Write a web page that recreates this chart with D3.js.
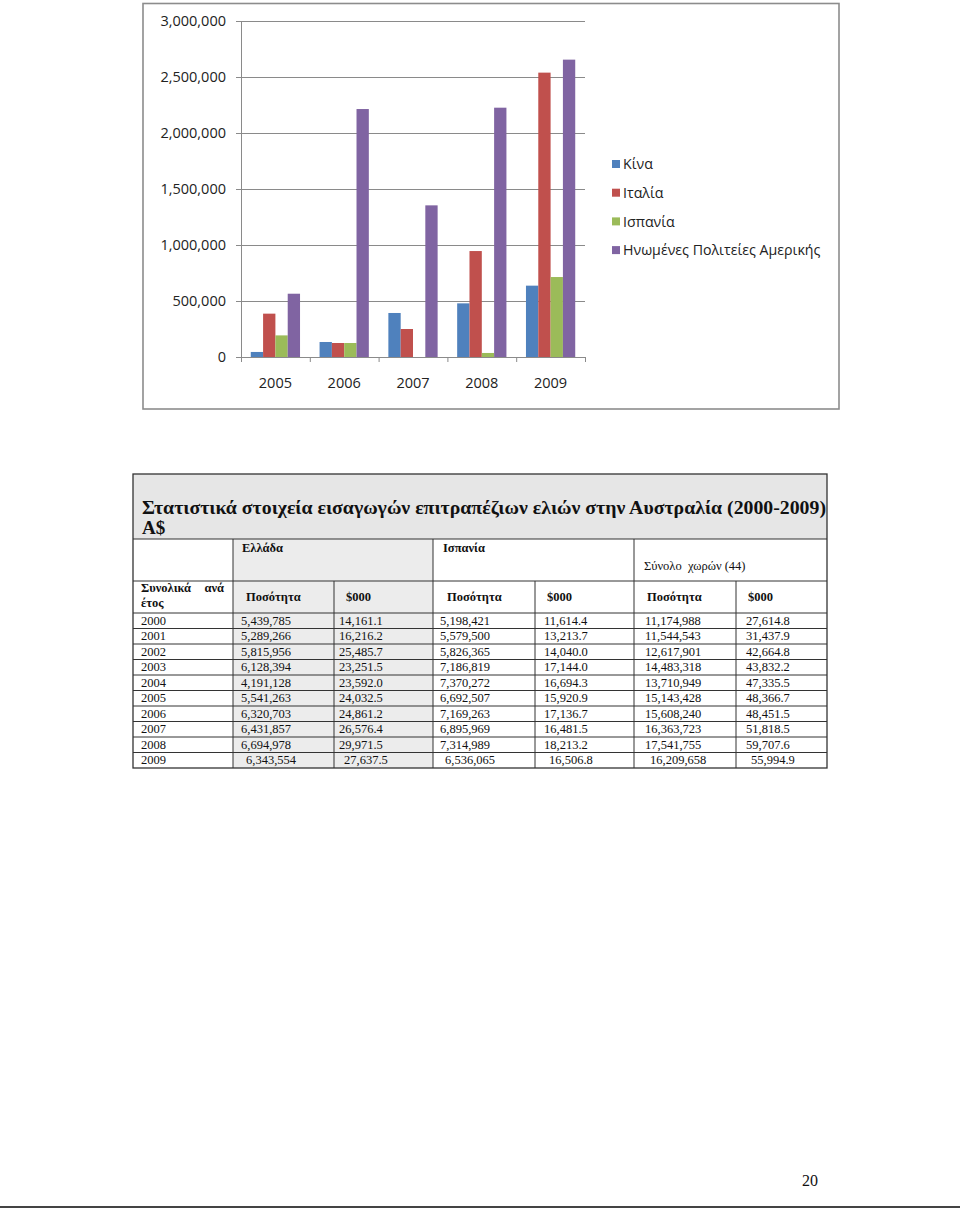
<!DOCTYPE html>
<html>
<head>
<meta charset="utf-8">
<script src="https://cdn.jsdelivr.net/npm/d3@7"></script>
<style>
  html, body { margin: 0; padding: 0; background: #fff; }
  svg { display: block; }
</style>
</head>
<body>
<script>
// ---------- Chart data ----------
const chartYears = ["2005", "2006", "2007", "2008", "2009"];
const seriesNames = ["Κίνα", "Ιταλία", "Ισπανία", "Ηνωμένες Πολιτείες Αμερικής"];
const china = [45000, 134000, 393000, 479000, 637000];
const italy = [387000, 125000, 250000, 946000, 2539000];
const spain = [193000, 125000, 0, 36000, 714000];
const usa   = [565000, 2214000, 1354000, 2226000, 2655000];
const yTicks = [0, 500000, 1000000, 1500000, 2000000, 2500000, 3000000];
const seriesColors = ["#4F81BD", "#C0504D", "#9BBB59", "#8064A2"];

// ---------- Table data ----------
const tableTitle1 = "Στατιστικά στοιχεία εισαγωγών επιτραπέζιων ελιών στην Αυστραλία (2000-2009)";
const tableTitle2 = "A$";
const groupHeaders = ["Ελλάδα", "Ισπανία", "Σύνολο  χωρών (44)"];
const subHeaders = ["Ποσότητα", "$000", "Ποσότητα", "$000", "Ποσότητα", "$000"];
const tableYears = ["2000","2001","2002","2003","2004","2005","2006","2007","2008","2009"];
const greeceQty = ["5,439,785","5,289,266","5,815,956","6,128,394","4,191,128","5,541,263","6,320,703","6,431,857","6,694,978","6,343,554"];
const greeceVal = ["14,161.1","16,216.2","25,485.7","23,251.5","23,592.0","24,032.5","24,861.2","26,576.4","29,971.5","27,637.5"];
const spainQty  = ["5,198,421","5,579,500","5,826,365","7,186,819","7,370,272","6,692,507","7,169,263","6,895,969","7,314,989","6,536,065"];
const spainVal  = ["11,614.4","13,213.7","14,040.0","17,144.0","16,694.3","15,920.9","17,136.7","16,481.5","18,213.2","16,506.8"];
const totalQty  = ["11,174,988","11,544,543","12,617,901","14,483,318","13,710,949","15,143,428","15,608,240","16,363,723","17,541,755","16,209,658"];
const totalVal  = ["27,614.8","31,437.9","42,664.8","43,832.2","47,335.5","48,366.7","48,451.5","51,818.5","59,707.6","55,994.9"];
const pageNumber = "20";

const W = 960, H = 1210;
const svg = d3.select("body").append("svg").attr("width", W).attr("height", H);
svg.append("rect").attr("width", W).attr("height", H).attr("fill", "#fff");

// ================= CHART =================
const sans = "'Open Sans', 'DejaVu Sans', sans-serif";
svg.append("rect").attr("x", 143).attr("y", 3.5).attr("width", 696).attr("height", 405.5)
  .attr("fill", "#fff").attr("stroke", "#8c8c8c").attr("stroke-width", 1.6);

const plot = { left: 241, right: 585, top: 21, bottom: 357 };
const x = d3.scaleBand().domain(chartYears).range([plot.left, plot.right]).paddingInner(0).paddingOuter(0);
const groupW = x.bandwidth() * 0.716;
const x1 = d3.scaleBand().domain(d3.range(4)).range([0, groupW]);
const y = d3.scaleLinear().domain([0, 3000000]).range([plot.bottom, plot.top]);

const g = svg.append("g");
// gridlines
g.selectAll("line.grid").data(yTicks).join("line")
  .attr("x1", plot.left - 5).attr("x2", plot.right)
  .attr("y1", d => y(d) + 0.5).attr("y2", d => y(d) + 0.5)
  .attr("stroke", "#8a8a8a").attr("stroke-width", 1);
// y axis line
g.append("line").attr("x1", plot.left + 0.5).attr("x2", plot.left + 0.5)
  .attr("y1", plot.top).attr("y2", plot.bottom + 5)
  .attr("stroke", "#8a8a8a");
// x ticks at band boundaries
const bounds = chartYears.map(d => x(d)).concat([plot.right]);
g.selectAll("line.xt").data(bounds.slice(1)).join("line")
  .attr("x1", d => d + 0.5).attr("x2", d => d + 0.5)
  .attr("y1", plot.bottom).attr("y2", plot.bottom + 5)
  .attr("stroke", "#8a8a8a");
// y labels
g.selectAll("text.yl").data(yTicks).join("text")
  .attr("x", 226).attr("y", d => y(d)).attr("dy", "0.36em")
  .attr("text-anchor", "end").attr("font-family", sans).attr("font-size", 14.5)
  .attr("fill", "#222").text(d => d3.format(",")(d));
// x labels
g.selectAll("text.xl").data(chartYears).join("text")
  .attr("x", d => x(d) + x.bandwidth() / 2).attr("y", 388)
  .attr("text-anchor", "middle").attr("font-family", sans).attr("font-size", 14.5)
  .attr("fill", "#222").text(d => d);

// bars
const allSeries = [china, italy, spain, usa];
const barData = [];
chartYears.forEach((yr, i) => {
  allSeries.forEach((s, k) => barData.push({ yr, k, v: s[i] }));
});
g.selectAll("rect.bar").data(barData.filter(d => d.v > 0)).join("rect")
  .attr("x", d => x(d.yr) + (x.bandwidth() - groupW) / 2 + x1(d.k))
  .attr("width", x1.bandwidth())
  .attr("y", d => y(d.v))
  .attr("height", d => y(0) - y(d.v))
  .attr("fill", d => seriesColors[d.k]);

// legend
const lg = svg.append("g");
seriesNames.forEach((n, i) => {
  const cy = 164 + i * 28.7;
  lg.append("rect").attr("x", 612).attr("y", cy - 4).attr("width", 8).attr("height", 8)
    .attr("fill", seriesColors[i]);
  lg.append("text").attr("x", 623).attr("y", cy).attr("dy", "0.36em")
    .attr("font-family", sans).attr("font-size", 14.2).attr("fill", "#222").text(n);
});

// ================= TABLE =================
const serif = "'Liberation Serif', 'DejaVu Serif', serif";
const cols = [133, 233, 334, 433, 535, 634, 736, 827];
const rTitleTop = 474, rTitleBot = 539, rH1Bot = 581, rH2Bot = 613, rowH = 15.5;
const tableBottom = rH2Bot + rowH * tableYears.length;
const gray = "#e6e6e6", lightGray = "#ececec";
const t = svg.append("g");

// backgrounds
t.append("rect").attr("x", cols[0]).attr("y", rTitleTop).attr("width", cols[7] - cols[0])
  .attr("height", rTitleBot - rTitleTop).attr("fill", gray);
t.append("rect").attr("x", cols[1]).attr("y", rTitleBot).attr("width", cols[3] - cols[1])
  .attr("height", tableBottom - rTitleBot).attr("fill", lightGray);

const stroke = "#333";
function hline(x1_, x2_, yy) {
  t.append("line").attr("x1", x1_).attr("x2", x2_).attr("y1", yy).attr("y2", yy)
    .attr("stroke", stroke).attr("stroke-width", 1);
}
function vline(xx, y1_, y2_) {
  t.append("line").attr("x1", xx).attr("x2", xx).attr("y1", y1_).attr("y2", y2_)
    .attr("stroke", stroke).attr("stroke-width", 1);
}
// outer border
t.append("rect").attr("x", cols[0]).attr("y", rTitleTop).attr("width", cols[7] - cols[0])
  .attr("height", tableBottom - rTitleTop).attr("fill", "none").attr("stroke", stroke).attr("stroke-width", 1.3);
hline(cols[0], cols[7], rTitleBot);
hline(cols[0], cols[7], rH1Bot);
hline(cols[0], cols[7], rH2Bot);
tableYears.forEach((d, i) => { if (i > 0) hline(cols[0], cols[7], rH2Bot + rowH * i); });
// header row 1 verticals
[cols[1], cols[3], cols[5]].forEach(c => vline(c, rTitleBot, rH1Bot));
// lower verticals
cols.slice(1, 7).forEach(c => vline(c, rH1Bot, tableBottom));

// title
t.append("text").attr("x", 142).attr("y", 514).attr("font-family", serif).attr("font-weight", "bold")
  .attr("font-size", 19.5).attr("textLength", 684).attr("lengthAdjust", "spacingAndGlyphs")
  .attr("fill", "#111").text(tableTitle1);
t.append("text").attr("x", 142).attr("y", 534).attr("font-family", serif).attr("font-weight", "bold")
  .attr("font-size", 19).attr("fill", "#111").text(tableTitle2);

// header row 1
t.append("text").attr("x", 242).attr("y", 552).attr("font-family", serif).attr("font-weight", "bold")
  .attr("font-size", 12.5).attr("fill", "#111").text(groupHeaders[0]);
t.append("text").attr("x", 443).attr("y", 552).attr("font-family", serif).attr("font-weight", "bold")
  .attr("font-size", 12.5).attr("fill", "#111").text(groupHeaders[1]);
t.append("text").attr("x", 644).attr("y", 570).attr("font-family", serif)
  .attr("font-size", 12.5).attr("fill", "#111").attr("xml:space", "preserve").style("white-space", "pre").text(groupHeaders[2]);

// header row 2
t.append("text").attr("x", 141).attr("y", 592).attr("font-family", serif).attr("font-weight", "bold")
  .attr("font-size", 12.5).attr("fill", "#111").text("Συνολικά");
t.append("text").attr("x", 224).attr("y", 592).attr("text-anchor", "end").attr("font-family", serif).attr("font-weight", "bold")
  .attr("font-size", 12.5).attr("fill", "#111").text("ανά");
t.append("text").attr("x", 141).attr("y", 607).attr("font-family", serif).attr("font-weight", "bold")
  .attr("font-size", 12.5).attr("fill", "#111").text("έτος");
const subX = [246, 346, 447, 547, 647, 748];
subHeaders.forEach((h, i) => {
  t.append("text").attr("x", subX[i]).attr("y", 601).attr("font-family", serif).attr("font-weight", "bold")
    .attr("font-size", 12.5).attr("fill", "#111").text(h);
});

// data rows
const colData = [tableYears, greeceQty, greeceVal, spainQty, spainVal, totalQty, totalVal];
const dataX = [141, 241, 339, 440, 544, 645, 746];
colData.forEach((arr, c) => {
  t.selectAll(null).data(arr).join("text")
    .attr("x", (d, i) => dataX[c] + (i === arr.length - 1 && c > 0 ? 5 : 0))
    .attr("y", (d, i) => rH2Bot + rowH * i + 11.5)
    .attr("font-family", serif).attr("font-size", 12.5).attr("fill", "#111")
    .text(d => d);
});

// page number and bottom rule
svg.append("text").attr("x", 802).attr("y", 1186).attr("font-family", serif).attr("font-size", 16)
  .attr("fill", "#111").text(pageNumber);
svg.append("line").attr("x1", 0).attr("x2", W).attr("y1", 1207).attr("y2", 1207)
  .attr("stroke", "#444").attr("stroke-width", 2);
</script>
</body>
</html>
